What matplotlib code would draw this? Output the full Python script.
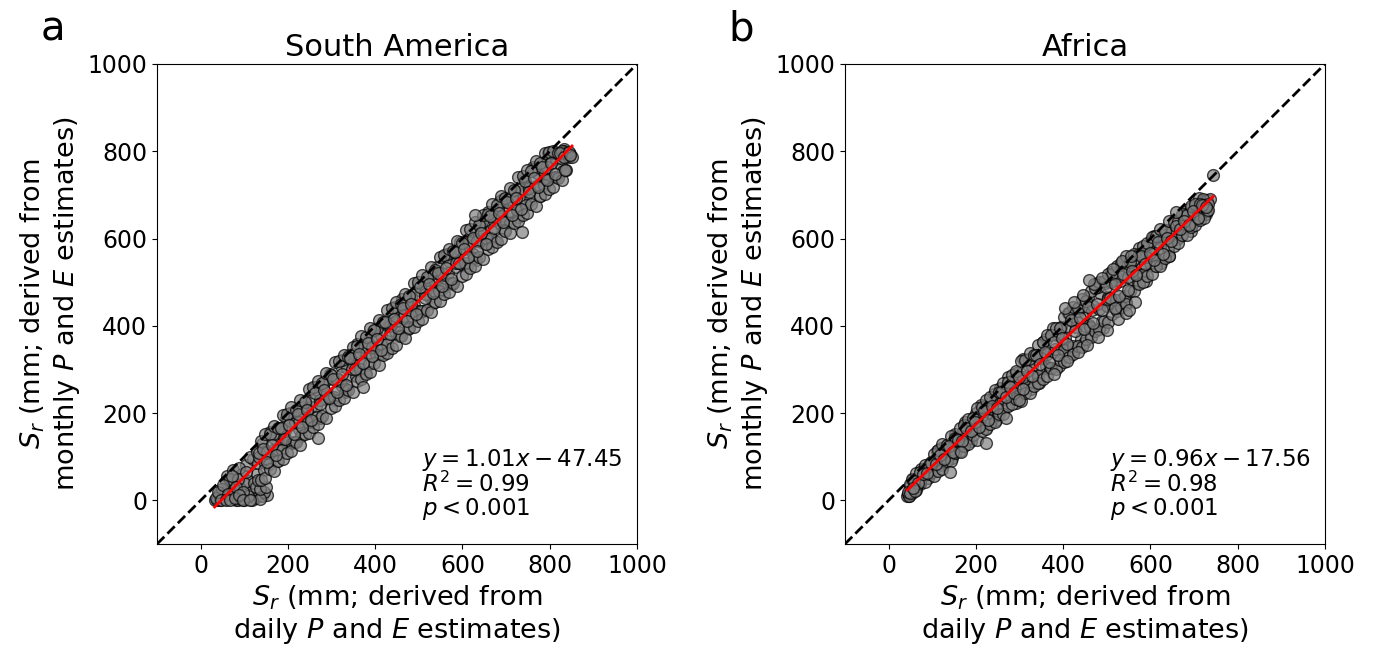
import matplotlib
matplotlib.use('Agg')
import matplotlib.pyplot as plt
import numpy as np

# South America: S_r from daily (x) vs monthly (y) P and E estimates, mm
sa_x = [32, 38, 45, 50, 55, 60, 65, 70, 75, 80, 42, 58, 60, 75, 85, 90, 95, 100, 105, 110,
        115, 120, 125, 130, 88, 112, 128, 140, 153, 145, 118, 100, 68, 48, 92, 108, 135, 85,
        35, 40, 52, 63, 72, 82, 97, 103, 122, 132, 47, 57, 67, 78, 87, 98, 113, 126, 137, 150,
        131, 133, 140, 147, 149, 156, 160, 166, 168, 175,
        182, 184, 191, 195, 201, 203, 210, 217, 219, 226,
        230, 236, 238, 245, 252, 254, 261, 265, 271, 273,
        280, 287, 289, 296, 300, 306, 308, 315, 322, 324,
        331, 335, 341, 343, 350, 357, 359, 366, 370, 376,
        378, 385, 392, 394, 401, 405, 411, 413, 420, 427,
        429, 436, 440, 446, 448, 455, 462, 464, 471, 475,
        481, 483, 490, 497, 499, 506, 510, 516, 518, 525,
        532, 534, 541, 545, 551, 553, 560, 567, 569, 576,
        580, 586, 588, 595, 602, 604, 611, 615, 621, 623,
        630, 637, 639, 646, 650, 656, 658, 665, 672, 674,
        681, 685, 691, 693, 700, 707, 709, 716, 720, 726,
        728, 735, 742, 744, 751, 755, 761, 763, 770, 777,
        779, 786, 790, 796, 798, 805, 812, 814, 821, 825,
        831, 833, 840, 847,
        134, 146, 153, 165, 174, 186, 193, 205, 214, 226,
        233, 245, 254, 266, 273, 285, 294, 306, 313, 325,
        334, 346, 353, 365, 374, 386, 393, 405, 414, 426,
        433, 445, 454, 466, 473, 485, 494, 506, 513, 525,
        534, 546, 553, 565, 574, 586, 593, 605, 614, 626,
        633, 645, 654, 666, 673, 685, 694, 706, 713, 725,
        734, 746, 753, 765, 774, 786, 793, 805, 814, 826,
        833, 845,
        138, 148, 158, 168, 178, 188, 198, 208, 218, 228,
        238, 248, 258, 268, 278, 288, 298, 308, 318, 328,
        338, 348, 358, 368, 378, 388, 398, 408, 418, 428,
        438, 448, 458, 468, 478, 488, 498, 508, 518, 528,
        538, 548, 558, 568, 578, 588, 598, 608, 618, 628,
        638, 648, 658, 668, 678, 688, 698, 708, 718, 728,
        738, 748, 758, 768, 778, 788, 798, 808, 818, 828,
        838,
        138, 148, 158, 168, 178, 188, 198, 208, 218, 228,
        238, 248, 258, 268, 278, 288, 298, 308, 318, 328,
        338, 348, 358, 368, 378, 388, 398, 408, 418, 428,
        438, 448, 458, 468, 478, 488, 498, 508, 518, 528,
        538, 548, 558, 568, 578, 588, 598, 608, 618, 628,
        638, 648, 658, 668, 678, 688, 698, 708, 718, 728,
        738, 748, 758, 768, 778, 788, 798, 808, 818, 828,
        838,
        143, 153, 163, 173, 183, 193, 203, 213, 223, 233,
        243, 253, 263, 273, 283, 293, 303, 313, 323, 333,
        343, 353, 363, 373, 383, 393, 403, 413, 423, 433,
        443, 453, 463, 473, 483, 493, 503, 513, 523, 533,
        543, 553, 563, 573, 583, 593, 603, 613, 623, 633,
        643, 653, 663, 673, 683, 693, 703, 713, 723, 733,
        743, 753, 763, 773, 783, 793, 803, 813, 823, 833,
        843,
        270, 373, 629, 737, 851, 835, 846]
sa_y = [0, 2, 1, 8, 20, 3, 30, 12, 40, 0, 15, 45, 55, 70, 0, 25, 60, 2, 80, 45,
        15, 95, 5, 60, 75, 100, 110, 10, 12, 20, 2, 40, 48, 25, 4, 10, 4, 50,
        5, 20, 35, 15, 55, 30, 20, 65, 40, 85, 0, 0, 0, 5, 12, 0, 0, 30, 25, 30,
        47, 99, 129, 86, 108, 83, 157, 116, 143, 90,
        165, 129, 146, 188, 134, 173, 132, 180, 204, 163,
        147, 203, 228, 185, 213, 182, 259, 216, 247, 189,
        264, 233, 245, 290, 234, 277, 231, 279, 308, 262,
        249, 303, 332, 284, 312, 286, 358, 318, 347, 293,
        363, 332, 349, 389, 336, 377, 335, 378, 407, 366,
        348, 405, 432, 388, 410, 385, 462, 417, 449, 393,
        467, 431, 448, 493, 435, 479, 435, 482, 506, 465,
        452, 504, 534, 488, 515, 484, 561, 521, 548, 495,
        567, 535, 547, 592, 539, 578, 537, 582, 610, 564,
        551, 608, 633, 590, 615, 588, 660, 620, 652, 594,
        669, 635, 651, 691, 638, 682, 636, 684, 710, 668,
        650, 707, 737, 689, 717, 688, 764, 719, 751, 698,
        768, 737, 751, 795, 737, 781, 740, 783, 795, 768,
        754, 806, 790, 793,
        108, 70, 110, 153, 117, 116, 158, 200, 134, 179,
        213, 180, 230, 192, 231, 274, 238, 237, 279, 321,
        255, 300, 335, 302, 351, 313, 352, 395, 359, 358,
        400, 442, 377, 422, 456, 423, 472, 434, 473, 516,
        480, 479, 522, 564, 498, 543, 577, 544, 593, 555,
        594, 637, 602, 601, 643, 685, 619, 664, 698, 665,
        714, 676, 716, 759, 723, 722, 764, 795, 740, 785,
        800, 786,
        137, 152, 153, 171, 166, 195, 198, 213, 208, 231,
        226, 255, 259, 274, 268, 292, 287, 316, 319, 334,
        329, 352, 353, 377, 374, 395, 390, 413, 408, 437,
        440, 455, 450, 474, 469, 498, 501, 516, 511, 534,
        529, 558, 562, 577, 571, 595, 590, 619, 622, 637,
        632, 655, 656, 680, 677, 698, 693, 716, 711, 740,
        743, 758, 754, 777, 772, 795, 798, 800, 795, 800,
        795,
        47, 52, 73, 68, 91, 95, 108, 113, 133, 128,
        151, 155, 169, 174, 194, 189, 212, 216, 229, 234,
        254, 249, 273, 277, 290, 295, 315, 310, 333, 337,
        350, 355, 376, 371, 394, 398, 411, 416, 436, 431,
        454, 458, 472, 477, 497, 492, 515, 519, 532, 537,
        557, 552, 576, 580, 593, 598, 618, 613, 636, 640,
        653, 658, 679, 674, 697, 701, 714, 719, 739, 734,
        757,
        117, 88, 128, 103, 166, 140, 173, 153, 198, 168,
        208, 184, 247, 221, 254, 234, 279, 249, 289, 264,
        327, 302, 335, 315, 360, 330, 370, 345, 408, 382,
        415, 396, 441, 411, 451, 426, 489, 463, 496, 476,
        521, 492, 532, 507, 570, 544, 577, 557, 602, 572,
        612, 588, 651, 625, 658, 638, 683, 653, 693, 668,
        731, 706, 739, 719, 764, 734, 774, 749, 795, 786,
        798,
        144, 259, 654, 615, 787, 757, 791]

# Africa
af_x = [46, 48, 55, 62, 64, 71, 75, 81, 83, 90,
        97, 99, 106, 110, 116, 118, 125, 132, 134, 141,
        145, 151, 153, 160, 167, 169, 176, 180, 186, 188,
        195, 202, 204, 211, 215, 221, 223, 230, 237, 239,
        246, 250, 256, 258, 265, 272, 274, 281, 285, 291,
        293, 300, 307, 309, 316, 320, 326, 328, 335, 342,
        344, 351, 355, 361, 363, 370, 377, 379, 386, 390,
        396, 398, 405, 412, 414, 421, 425, 431, 433, 440,
        447, 449, 456, 460, 466, 468, 475, 482, 484, 491,
        495, 501, 503, 510, 517, 519, 526, 530, 536, 538,
        545, 552, 554, 561, 565, 571, 573, 580, 587, 589,
        596, 600, 606, 608, 615, 622, 624, 631, 635, 641,
        643, 650, 657, 659, 666, 670, 676, 678, 685, 692,
        694, 701, 705, 711, 713, 720, 727, 729, 736,
        50, 62, 69, 81, 90, 102, 109, 121, 130, 142,
        149, 161, 170, 182, 189, 201, 210, 222, 229, 241,
        250, 262, 269, 281, 290, 302, 309, 321, 330, 342,
        349, 361, 370, 382, 389, 401, 410, 422, 429, 441,
        450, 462, 469, 481, 490, 502, 509, 521, 530, 542,
        549, 561, 570, 582, 589, 601, 610, 622, 629, 641,
        650, 662, 669, 681, 690, 702, 709, 721, 730,
        53, 63, 73, 83, 93, 103, 113, 123, 133, 143,
        153, 163, 173, 183, 193, 203, 213, 223, 233, 243,
        253, 263, 273, 283, 293, 303, 313, 323, 333, 343,
        353, 363, 373, 383, 393, 403, 413, 423, 433, 443,
        453, 463, 473, 483, 493, 503, 513, 523, 533, 543,
        553, 563, 573, 583, 593, 603, 613, 623, 633, 643,
        653, 663, 673, 683, 693, 703, 713, 723, 733,
        53, 63, 73, 83, 93, 103, 113, 123, 133, 143,
        153, 163, 173, 183, 193, 203, 213, 223, 233, 243,
        253, 263, 273, 283, 293, 303, 313, 323, 333, 343,
        353, 363, 373, 383, 393, 403, 413, 423, 433, 443,
        453, 463, 473, 483, 493, 503, 513, 523, 533, 543,
        553, 563, 573, 583, 593, 603, 613, 623, 633, 643,
        653, 663, 673, 683, 693, 703, 713, 723, 733,
        58, 68, 78, 88, 98, 108, 118, 128, 138, 148,
        158, 168, 178, 188, 198, 208, 218, 228, 238, 248,
        258, 268, 278, 288, 298, 308, 318, 328, 338, 348,
        358, 368, 378, 388, 398, 408, 418, 428, 438, 448,
        458, 468, 478, 488, 498, 508, 518, 528, 538, 548,
        558, 568, 578, 588, 598, 608, 618, 628, 638, 648,
        658, 668, 678, 688, 698, 708, 718, 728,
        405, 425, 445, 470, 490, 515, 535, 555,
        410, 435, 455, 480, 500, 525, 545, 565,
        43, 45, 47, 44, 50, 60, 55, 140, 224, 270, 551, 460, 659, 520, 380, 300, 165, 744]
af_y = [11, 34, 49, 35, 46, 38, 72, 58, 71, 51,
        88, 72, 84, 113, 80, 107, 80, 115, 128, 101,
        97, 135, 151, 125, 146, 125, 179, 152, 175, 135,
        190, 165, 178, 219, 170, 210, 166, 211, 233, 189,
        185, 233, 258, 215, 241, 217, 283, 248, 275, 224,
        291, 255, 277, 324, 261, 310, 255, 307, 334, 281,
        268, 334, 363, 309, 336, 303, 394, 341, 378, 307,
        398, 350, 371, 430, 351, 410, 344, 408, 433, 370,
        360, 430, 466, 401, 436, 391, 496, 439, 476, 396,
        499, 446, 465, 524, 450, 504, 441, 503, 532, 464,
        454, 526, 550, 503, 530, 499, 578, 534, 569, 503,
        587, 544, 564, 606, 550, 598, 545, 597, 619, 571,
        560, 615, 637, 603, 625, 605, 661, 630, 655, 617,
        670, 646, 659, 692, 652, 686, 656, 688, 690,
        37, 31, 50, 72, 64, 66, 93, 121, 87, 118,
        139, 126, 157, 140, 165, 200, 174, 177, 210, 244,
        195, 232, 260, 237, 276, 242, 282, 324, 286, 286,
        327, 369, 303, 346, 381, 344, 399, 353, 397, 444,
        399, 397, 445, 490, 412, 461, 500, 460, 514, 468,
        512, 550, 519, 518, 557, 595, 536, 578, 609, 580,
        618, 600, 627, 656, 637, 641, 669, 690, 662,
        48, 63, 64, 80, 81, 107, 115, 130, 126, 147,
        143, 165, 173, 187, 188, 212, 213, 231, 238, 253,
        249, 270, 271, 288, 296, 320, 321, 338, 334, 356,
        363, 378, 379, 395, 396, 421, 429, 444, 440, 461,
        457, 479, 487, 501, 502, 518, 519, 537, 544, 559,
        547, 564, 565, 582, 590, 604, 605, 622, 618, 640,
        639, 640, 657, 653, 675, 680, 680, 678, 680,
        18, 24, 43, 41, 60, 55, 67, 73, 91, 90,
        108, 113, 125, 130, 149, 139, 158, 163, 174, 180,
        198, 197, 216, 220, 232, 227, 246, 245, 263, 268,
        279, 285, 304, 302, 321, 317, 329, 335, 353, 352,
        370, 375, 387, 392, 411, 409, 428, 433, 444, 450,
        480, 479, 495, 500, 514, 519, 538, 537, 555, 560,
        584, 590, 609, 607, 626, 630, 642, 648, 666,
        44, 40, 60, 62, 86, 83, 103, 95, 125, 112,
        138, 137, 167, 160, 180, 169, 205, 184, 217, 211,
        249, 236, 259, 246, 282, 255, 296, 284, 332, 312,
        339, 318, 363, 332, 373, 359, 413, 387, 418, 393,
        442, 406, 450, 436, 490, 464, 495, 469, 519, 483,
        525, 517, 560, 542, 568, 550, 592, 565, 602, 594,
        629, 621, 641, 632, 664, 648, 677, 673,
        440, 455, 470, 495, 510, 530, 548, 560,
        320, 340, 355, 375, 390, 415, 430, 455,
        11, 14, 9, 20, 18, 22, 28, 64, 131, 188, 436, 505, 661, 440, 290, 230, 110, 745]

panels = [
    ('a', 'South America', sa_x, sa_y, 1.01, -47.45, 0.99),
    ('b', 'Africa', af_x, af_y, 0.96, -17.56, 0.98),
]
ticks = [0, 200, 400, 600, 800, 1000]

fig = plt.figure(figsize=(13.75, 6.53), dpi=100)
lefts = [0.1142, 0.6145]

for left, (letter, title, xs, ys, slope, icpt, r2) in zip(lefts, panels):
    ax = fig.add_axes([left, 0.1669, 0.3491, 0.7351])
    xs = np.array(xs, dtype=float)
    ys = np.array(ys, dtype=float)
    ax.scatter(xs, ys, s=72, c='gray', edgecolors='k', linewidths=1.0, alpha=0.7, zorder=2)
    ax.plot([-100, 1000], [-100, 1000], 'k--', lw=2, zorder=3)
    fx = np.array([xs.min(), xs.max()])
    ax.plot(fx, slope * fx + icpt, color='red', lw=2, zorder=4)
    ax.set_xlim(-100, 1000)
    ax.set_ylim(-100, 1000)
    ax.set_xticks(ticks)
    ax.set_yticks(ticks)
    ax.tick_params(labelsize=17)
    ax.set_title(title, fontsize=22)
    ax.set_xlabel('$S_r$ (mm; derived from\ndaily $P$ and $E$ estimates)', fontsize=19.5)
    ax.set_ylabel('$S_r$ (mm; derived from\nmonthly $P$ and $E$ estimates)', fontsize=19.5)
    txt = ('$y = %.2fx - %.2f$\n$R^2 = %.2f$\n$p < 0.001$' % (slope, -icpt, r2))
    ax.text(0.552, 0.046, txt, transform=ax.transAxes, fontsize=16.5,
            ha='left', va='bottom', linespacing=0.95)
    fig.text(left - 0.085, 0.9387, letter, fontsize=29, ha='left', va='baseline')

plt.savefig('out.png', dpi=100)
